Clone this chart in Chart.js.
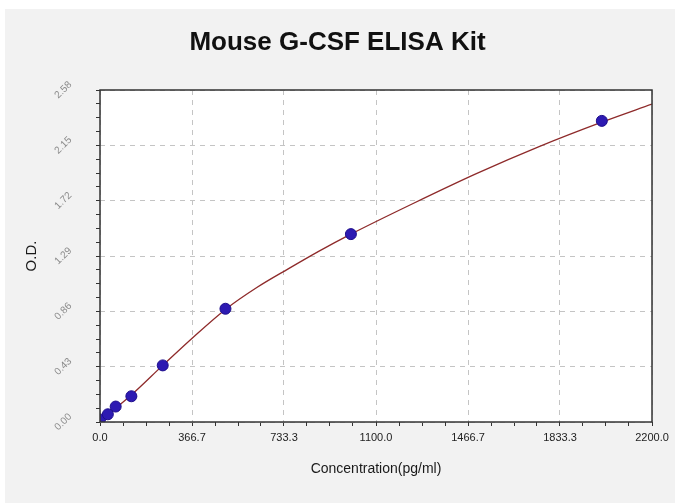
<!DOCTYPE html>
<html>
<head>
<meta charset="utf-8">
<script src="https://cdn.jsdelivr.net/npm/chart.js@4"></script>
<style>
  html, body { margin: 0; padding: 0; background: #ffffff; }
  #chartWrap { width: 675px; height: 503px; }
</style>
</head>
<body>
<div id="chartWrap"><canvas id="elisaChart" width="675" height="503"></canvas></div>
<script>
// standards
const concentration = [0, 31.25, 62.5, 125, 250, 500, 1000, 2000];
const odValues = [0.02, 0.06, 0.12, 0.20, 0.44, 0.88, 1.46, 2.34];

// fitted curve, read at a few x positions
const curveX = [0, 125, 250, 375, 500, 625, 750, 875, 1000, 1250, 1500, 1750, 2000, 2200];
const curveY = [0.01, 0.21, 0.44, 0.665, 0.875, 1.045, 1.19, 1.33, 1.46, 1.70, 1.93, 2.14, 2.33, 2.47];

const xTickLabels = ['0.0', '366.7', '733.3', '1100.0', '1466.7', '1833.3', '2200.0'];
const yTickLabels = ['0.00', '0.43', '0.86', '1.29', '1.72', '2.15', '2.58'];

const MINOR = 4; // intervals between two labelled ticks

function buildTicks(labels) {
  const majors = labels.map(Number);
  const ticks = [];
  majors.forEach((v, i) => {
    ticks.push({ value: v });
    if (i < majors.length - 1) {
      for (let k = 1; k < MINOR; k++) {
        ticks.push({ value: v + (majors[i + 1] - v) * k / MINOR });
      }
    }
  });
  return ticks;
}

const panelBackground = {
  id: 'panelBackground',
  beforeDraw(chart) {
    const { ctx, chartArea: a } = chart;
    ctx.save();
    ctx.fillStyle = '#ffffff';
    ctx.fillRect(0, 0, chart.width, chart.height);
    ctx.fillStyle = '#f2f2f2';
    ctx.fillRect(5, 9, chart.width - 5, chart.height - 9);
    ctx.fillStyle = '#ffffff';
    ctx.fillRect(a.left, a.top, a.right - a.left, a.bottom - a.top);
    ctx.restore();
  },
  afterDraw(chart) {
    const { ctx, chartArea: a } = chart;
    ctx.save();
    ctx.strokeStyle = '#333333';
    ctx.lineWidth = 1.5;
    ctx.strokeRect(a.left, a.top, a.right - a.left, a.bottom - a.top);
    ctx.restore();
  }
};

const gridColor = (c) => (c.index % MINOR === 0 ? '#c4c4c4' : 'rgba(0,0,0,0)');

new Chart(document.getElementById('elisaChart'), {
  type: 'scatter',
  data: {
    datasets: [
      {
        label: 'Standards',
        data: concentration.map((x, i) => ({ x, y: odValues[i] })),
        backgroundColor: '#2d1ab2',
        borderColor: '#1e0e8c',
        borderWidth: 1,
        pointRadius: 5.5,
        clip: 0
      },
      {
        type: 'line',
        label: 'Fit',
        data: curveX.map((x, i) => ({ x, y: curveY[i] })),
        borderColor: '#8e2a2a',
        borderWidth: 1.3,
        pointRadius: 0,
        fill: false,
        cubicInterpolationMode: 'monotone'
      }
    ]
  },
  options: {
    responsive: false,
    animation: false,
    devicePixelRatio: 1,
    layout: { padding: 0 },
    plugins: {
      legend: { display: false },
      tooltip: { enabled: false },
      title: {
        display: true,
        text: 'Mouse G-CSF ELISA Kit',
        color: '#111111',
        font: { family: '"Liberation Sans", Arial, sans-serif', size: 26, weight: 'bold' },
        padding: { top: 27.4, bottom: 31.4 }
      }
    },
    scales: {
      x: {
        type: 'linear',
        min: 0,
        max: Number(xTickLabels[xTickLabels.length - 1]),
        afterBuildTicks: (scale) => { scale.ticks = buildTicks(xTickLabels); },
        afterFit: (scale) => { scale.height = 81; },
        border: { display: false, dash: [5, 5] },
        grid: {
          color: gridColor,
          lineWidth: 1,
          tickColor: '#333333',
          tickLength: 4,
          tickBorderDash: []
        },
        ticks: {
          autoSkip: false,
          maxRotation: 0,
          padding: 5,
          color: '#222222',
          font: { family: '"Liberation Sans", Arial, sans-serif', size: 11 },
          callback: (v, i) => (i % MINOR === 0 ? xTickLabels[i / MINOR] : '')
        },
        title: {
          display: true,
          text: 'Concentration(pg/ml)',
          color: '#1a1a1a',
          font: { family: '"Liberation Sans", Arial, sans-serif', size: 14 },
          padding: { top: 0, bottom: 25.6 }
        }
      },
      y: {
        type: 'linear',
        min: 0,
        max: Number(yTickLabels[yTickLabels.length - 1]),
        afterBuildTicks: (scale) => { scale.ticks = buildTicks(yTickLabels); },
        afterFit: (scale) => { scale.width = 100; },
        border: { display: false, dash: [5, 5] },
        grid: {
          color: gridColor,
          lineWidth: 1,
          tickColor: '#333333',
          tickLength: 4,
          tickBorderDash: []
        },
        ticks: {
          autoSkip: false,
          minRotation: 45,
          maxRotation: 45,
          crossAlign: 'center',
          padding: 23,
          color: '#8a8a8a',
          font: { family: '"Liberation Sans", Arial, sans-serif', size: 10 },
          callback: (v, i) => (i % MINOR === 0 ? yTickLabels[i / MINOR] : '')
        },
        title: {
          display: true,
          text: 'O.D.',
          color: '#1a1a1a',
          font: { family: '"Liberation Sans", Arial, sans-serif', size: 15 },
          padding: { top: 23, bottom: 0 }
        }
      },
      // empty right-hand strip so the title stays centred on the whole canvas
      yRight: {
        type: 'linear',
        position: 'right',
        min: 0,
        max: 1,
        afterFit: (scale) => { scale.width = 23; },
        border: { display: false },
        grid: { display: false },
        ticks: { display: false }
      }
    }
  },
  plugins: [panelBackground]
});
</script>
</body>
</html>
